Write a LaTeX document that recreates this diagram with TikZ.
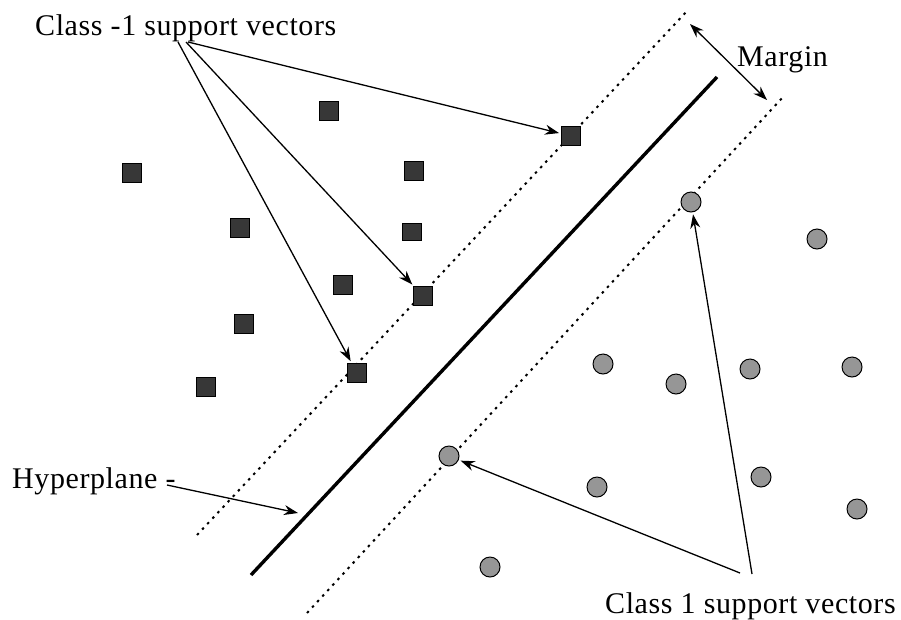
\documentclass[tikz,border=0pt]{standalone}
\usepackage{fontspec}
\setmainfont{Liberation Serif}[LetterSpace=2.0]
\usetikzlibrary{arrows.meta}
\begin{document}
\begin{tikzpicture}[x=1pt,y=-1pt,
  sq/.style={draw=black, line width=1pt, fill={rgb,255:red,55;green,55;blue,55}, rectangle, minimum size=19pt, inner sep=0pt},
  pt/.style={draw=black, line width=1pt, fill={rgb,255:red,150;green,150;blue,150}, circle, minimum size=20pt, inner sep=0pt},
  lbl/.style={font=\fontsize{30}{32}\selectfont, inner sep=0pt, anchor=base west},
  ptr/.style={line width=1.3pt, shorten >=2pt, -{Stealth[length=14pt,width=10pt]}},
  twoptr/.style={line width=1.3pt, {Stealth[length=14pt,width=10pt]}-{Stealth[length=14pt,width=10pt]}},
  marginline/.style={line width=2pt, dash pattern=on 2.5pt off 5pt},
  hyper/.style={line width=3.4pt},
]
\useasboundingbox (0,0) rectangle (901,619);

% margin boundaries and hyperplane
\coordinate (ua) at (197,535);
\coordinate (ub) at (688,10);
\coordinate (la) at (307,613);
\coordinate (lb) at (783,97);
\coordinate (ha) at (251,575);
\coordinate (hb) at (717,77);
\draw[marginline] (ua) -- (ub);
\draw[marginline] (la) -- (lb);
\draw[hyper] (ha) -- (hb);

% class -1 points
\node[sq] (s1) at (329,111) {};
\node[sq] (s2) at (132,173) {};
\node[sq] (s3) at (414,171) {};
\node[sq] (s4) at (240,228) {};
\node[sq, minimum width=19pt, minimum height=17pt] (s5) at (412,232) {};
\node[sq] (s6) at (343,285) {};
\node[sq] (s7) at (244,324) {};
\node[sq] (s8) at (206,387) {};
\node[sq] (sv1) at (571,136) {};
\node[sq] (sv2) at (423,296) {};
\node[sq] (sv3) at (357,373) {};

% class 1 points
\node[pt] (cv1) at (691,202) {};
\node[pt] (c2) at (817,239) {};
\node[pt] (c3) at (603,364) {};
\node[pt] (c4) at (676,384) {};
\node[pt] (c5) at (750,369) {};
\node[pt] (c6) at (852,367) {};
\node[pt] (cv2) at (449,456) {};
\node[pt] (c8) at (597,487) {};
\node[pt] (c9) at (761,477) {};
\node[pt] (c10) at (857,509) {};
\node[pt] (c11) at (490,567) {};

% labels
\node[lbl] (lneg) at (35,35) {Class -1 support vectors};
\node[lbl] (lpos) at (605,613) {Class 1 support vectors};
\node[lbl] (lmar) at (737,66) {Margin};
\node[lbl] (lhyp) at (12,488) {Hyperplane -};

% pointer origins
\coordinate (n1) at (188,42);
\coordinate (n2) at (186,42);
\coordinate (n3) at (178,42);
\coordinate (p1) at (752,574);
\coordinate (p2) at (740,573);
\coordinate (h0) at (167,485);
\coordinate (h1) at (298,513);
\coordinate (m1) at (690,24);
\coordinate (m2) at (767,100);

\draw[ptr] (n1) -- (sv1);
\draw[ptr] (n2) -- (sv2);
\draw[ptr] (n3) -- (sv3);
\draw[ptr] (p1) -- (cv1);
\draw[ptr] (p2) -- (cv2);
\draw[ptr, shorten >=0pt] (h0) -- (h1);
\draw[twoptr] (m1) -- (m2);
\end{tikzpicture}
\end{document}
